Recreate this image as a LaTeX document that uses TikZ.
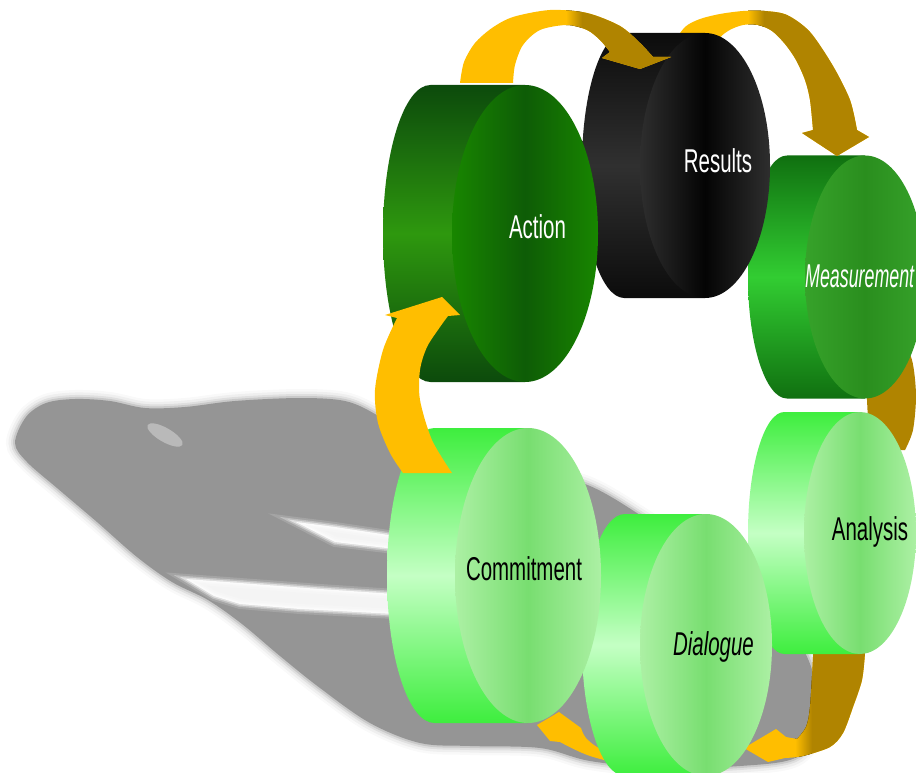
\documentclass[tikz,border=0pt]{standalone}
\usepackage{fontspec}
\setmainfont{Liberation Sans}
\usepackage{graphicx}
\definecolor{gA}{RGB}{255,190,0}
\definecolor{gB}{RGB}{176,132,0}
\definecolor{shc}{RGB}{149,149,149}
\definecolor{acRim}{RGB}{12,74,12}
\definecolor{acRimM}{RGB}{46,152,14}
\definecolor{acFaceE}{RGB}{24,134,0}
\definecolor{acFaceM}{RGB}{14,92,6}
\definecolor{reRim}{RGB}{12,12,12}
\definecolor{reRimM}{RGB}{48,48,48}
\definecolor{reFaceE}{RGB}{46,46,46}
\definecolor{reFaceM}{RGB}{4,4,4}
\definecolor{meRim}{RGB}{16,112,16}
\definecolor{meRimM}{RGB}{50,205,50}
\definecolor{meFaceE}{RGB}{54,162,42}
\definecolor{meFaceM}{RGB}{42,142,30}
\definecolor{ltRim}{RGB}{62,238,62}
\definecolor{ltRimM}{RGB}{196,255,196}
\definecolor{ltFaceE}{RGB}{172,240,164}
\definecolor{ltFaceM}{RGB}{120,222,112}
\newcommand\cylinder[8]{%
  \pgfmathsetmacro\cyRy{(#4-#3)/2}%
  \pgfmathsetmacro\cyCy{(#4+#3)/2}%
  \pgfmathsetmacro\cyR{0.65*#5}%
  \pgfmathsetmacro\cyBx{#1+\cyR}%
  \pgfmathsetmacro\cyKx{#1+\cyR*(1-0.5523)}%
  \pgfmathsetmacro\cyTa{\cyCy-0.5523*\cyRy}%
  \pgfmathsetmacro\cyTb{\cyCy+0.5523*\cyRy}%
  \path[#6] (#2,#3) -- (\cyBx,#3) .. controls (\cyKx,#3) and (#1,\cyTa) .. (#1,\cyCy)
     .. controls (#1,\cyTb) and (\cyKx,#4) .. (\cyBx,#4) -- (#2,#4) -- cycle;
  \path[#7] (#2,\cyCy) circle[x radius=#5,y radius=\cyRy];
  \coordinate (#8) at (#2,\cyCy);
}
\begin{document}
\begin{tikzpicture}[x=1pt,y=-1pt,
  rimAc/.style={top color=acRim,bottom color=acRim,middle color=acRimM},
  faceAc/.style={left color=acFaceE,right color=acFaceE,middle color=acFaceM},
  rimRe/.style={top color=reRim,bottom color=reRim,middle color=reRimM},
  faceRe/.style={left color=reFaceE,right color=reFaceE,middle color=reFaceM},
  rimMe/.style={top color=meRim,bottom color=meRim,middle color=meRimM},
  faceMe/.style={left color=meFaceE,right color=meFaceE,middle color=meFaceM},
  rimLt/.style={top color=ltRim,bottom color=ltRim,middle color=ltRimM},
  faceLt/.style={left color=ltFaceE,right color=ltFaceE,middle color=ltFaceM},
  shadowst/.style={fill=shc,
     preaction={draw=shc,line width=18,draw opacity=.06},
     preaction={draw=shc,line width=13,draw opacity=.1},
     preaction={draw=shc,line width=8,draw opacity=.18},
     preaction={draw=shc,line width=4,draw opacity=.3}},
  wedgest/.style={fill=white,fill opacity=.9,
     preaction={draw=white,line width=10,draw opacity=.15},
     preaction={draw=white,line width=6,draw opacity=.3},
     preaction={draw=white,line width=3,draw opacity=.5}},
  lbl/.style={inner sep=0pt,anchor=base,font=\fontsize{33}{33}\selectfont}]
\useasboundingbox (0,0) rectangle (916,773);
\clip (0,0) rectangle (916,773);

% ---------- shadow ----------
\path[shadowst] plot[smooth cycle,tension=.55] coordinates {(15,443) (26,417) (46,403) (75,399) (110,401) (145,408) (185,407) (235,401) (300,398) (345,401) (375,414) (400,432) (470,455) (540,472) (590,486) (640,515) (720,570) (790,630) (815,680) (815,730) (795,758) (740,766) (660,768) (590,761) (540,748) (470,746) (420,743) (370,723) (320,688) (280,656) (242,624) (208,600) (172,582) (137,557) (97,522) (57,488) (27,462)};
\path[wedgest] (296,522) -- (335,527) -- (395,536) -- (395,549) -- (335,542) -- cycle;
\path[wedgest] (186,579) -- (240,583) -- (320,589) -- (395,594) -- (395,614) -- (300,609) -- (240,604) -- (214,596) -- cycle;
\fill[white,opacity=.35,rotate around={-30:(165,435)}] (165,435) circle[x radius=20,y radius=7];

% ---------- arrow Measurement -> Analysis ----------
\fill[gB] (866,380) -- (900,335) -- plot[smooth] coordinates {(900,335) (912,360) (916,395) (913,430) (905,450)} -- (875,450) -- (868,420) -- cycle;

% ---------- arrow Analysis -> Dialogue ----------
\begin{scope}
  \clip (813,640) -- (865,640) -- plot[smooth] coordinates {(865,653) (862,680) (853,707) (843,733) (830,747) (803,756) (785,758)} -- (768,762) -- (744,748) -- (776,729) -- (786,737) -- plot[smooth] coordinates {(797,739) (806,727) (810,707) (813,657)} -- cycle;
  \fill[gA] (730,630) rectangle (880,773);
  \fill[left color=gA,right color=gB] (795,630) rectangle (812,773);
  \fill[gB] (812,630) rectangle (880,773);
\end{scope}

% ---------- arrow Dialogue -> Commitment ----------
\fill[gA] plot[smooth] coordinates {(581,728) (586,738) (601,749) (637,759) (677,762) (700,762)} -- (700,771) -- plot[smooth] coordinates {(677,768) (637,767) (590,756) (560,742)} -- (550,741) -- (537,725) -- (559,712) -- cycle;

% ---------- cylinders (back) ----------
\cylinder{748}{865}{155.5}{398.5}{60}{rimMe}{faceMe}{meas}
\cylinder{748}{860}{412}{654}{56}{rimLt}{faceLt}{anal}

% ---------- arrow Results -> Measurement ----------
\begin{scope}
  \clip (670,75) -- plot[smooth] coordinates {(672,45) (685,27) (700,19) (720,14) (743,11) (765,11) (787,15) (810,32) (833,66) (850,100) (857,130)} -- (869,137) -- (837,156) -- (802,133) -- plot[smooth] coordinates {(813,130) (810,100) (805,80) (796,60) (785,44) (772,31) (758,25) (743,25) (728,31) (718,42) (715,75)} -- cycle;
  \fill[gA] (660,0) rectangle (880,170);
  \fill[left color=gA,right color=gB] (748,0) rectangle (764,170);
  \fill[gB] (764,0) rectangle (880,170);
\end{scope}

\cylinder{582}{705}{33}{298}{65}{rimRe}{faceRe}{resu}
\cylinder{383}{525}{85}{382}{73}{rimAc}{faceAc}{acti}

% ---------- arrow Action -> Results ----------
\begin{scope}
  \clip plot[smooth] coordinates {(460,83) (464,62) (475,43) (492,28) (513,17) (550,10) (587,13) (620,26) (640,43) (653,57)} -- (671,57) -- (640,69) -- (602,58) -- plot[smooth] coordinates {(610,52) (600,40) (587,30) (567,25) (540,30) (523,45) (515,65) (513,83)} -- cycle;
  \fill[gA] (440,0) rectangle (700,100);
  \fill[left color=gA,right color=gB] (566,0) rectangle (582,100);
  \fill[gB] (582,0) rectangle (700,100);
\end{scope}

\cylinder{582}{706}{514}{776}{66}{rimLt}{faceLt}{dial}
\cylinder{387}{528}{428}{723}{73}{rimLt}{faceLt}{comm}

% ---------- arrow Commitment -> Action ----------
\fill[gA] plot[smooth] coordinates {(403,473) (390,453) (378,423) (375,390) (383,350) (397,318)} -- (385,315) -- (442,297) -- (460,315) -- plot[smooth] coordinates {(448,316) (440,327) (427,347) (420,370) (420,400) (432,440) (452,473)} -- cycle;

% ---------- labels ----------
\node[lbl,text=white] (tAct) at (537.5,238) {\scalebox{0.62}[1]{Action}};
\node[lbl,text=white] (tRes) at (718,173) {\scalebox{0.62}[1]{Results}};
\node[lbl,text=white,anchor=base west] (tMea) at (805,287) {\scalebox{0.54}[1]{\itshape Measurement}};
\node[lbl,text=black] (tAna) at (870,540) {\scalebox{0.62}[1]{Analysis}};
\node[lbl,text=black] (tCom) at (524,580) {\scalebox{0.62}[1]{Commitment}};
\node[lbl,text=black] (tDia) at (713.5,655) {\scalebox{0.62}[1]{\itshape Dialogue}};
\end{tikzpicture}
\end{document}
